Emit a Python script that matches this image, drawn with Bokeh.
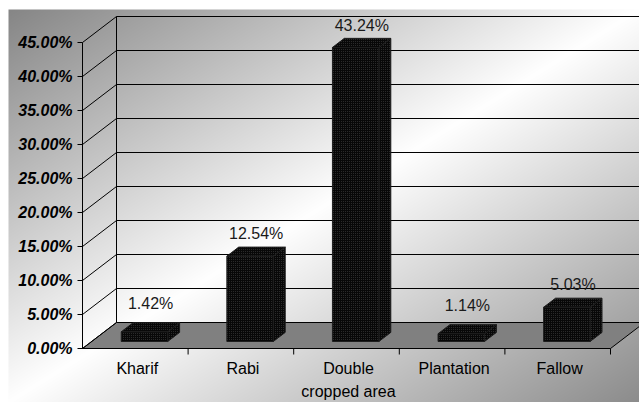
import numpy as np
from bokeh.plotting import figure
from bokeh.models import Range1d
from bokeh.core.properties import value
from bokeh.embed import file_html
from bokeh.resources import INLINE

# ---- data -----------------------------------------------------------------
categories = ["Kharif", "Rabi", "Double\ncropped area", "Plantation", "Fallow"]
shares = [1.42, 12.54, 43.24, 1.14, 5.03]          # percent of area
tick_values = [0, 5, 10, 15, 20, 25, 30, 35, 40, 45]
tick_labels = ["0.00%", "5.00%", "10.00%", "15.00%", "20.00%",
               "25.00%", "30.00%", "35.00%", "40.00%", "45.00%"]

# ---- geometry of the projected box ---------------------------------------
W, H = 639, 402
X0_PX, CAT_PX = 82.0, 105.6      # front-left corner, width of one category slot
Y0_PX, PCT_PX = 348.0, 6.8       # front floor edge (0 %), pixels per percent
DEPTH_PX = (34.0, 26.0)          # screen offset of the back wall

DX = DEPTH_PX[0] / CAT_PX        # depth offset in data units
DY = DEPTH_PX[1] / PCT_PX
N = len(categories)
YMAX = tick_values[-1]


def px2x(px):
    return (px - X0_PX) / CAT_PX


def px2y(py):
    return (Y0_PX - py) / PCT_PX


def proj(x, y, d):
    """Project a point (x, y) at depth d (0 = front, 1 = back)."""
    return x + d * DX, y + d * DY


p = figure(width=W, height=H, output_backend="svg", toolbar_location=None,
           x_range=Range1d(px2x(0), px2x(W)), y_range=Range1d(px2y(H), px2y(0)),
           x_axis_location=None, y_axis_location=None, min_border=0)
p.grid.visible = False
p.outline_line_color = None
p.background_fill_color = "white"
p.border_fill_color = "white"

# ---- chart-area background: diagonal grey-white-grey gradient -------------
gw, gh = 631, 393
rr, cc = np.mgrid[0:gh, 0:gw]
t = (cc / (gw - 1) + rr / (gh - 1)) / 2.0
g = np.where(t < 0.5, 134 + (255 - 134) * t * 2, 255 - (255 - 140) * (t - 0.5) * 2)
g = np.clip(g, 0, 255).astype(np.uint32)
img = (np.uint32(255) << 24) | (g << 16) | (g << 8) | g
img = np.ascontiguousarray(img[::-1])
p.image_rgba(image=[img], x=px2x(8), y=px2y(H), dw=gw / CAT_PX, dh=gh / PCT_PX)

# ---- floor ----------------------------------------------------------------
fx, fy = zip(proj(0, 0, 0), proj(N, 0, 0), proj(N, 0, 1), proj(0, 0, 1))
p.patch(list(fx), list(fy), fill_color="#808080", line_color="black", line_width=1)

# ---- back wall and side wall grid -----------------------------------------
for v in tick_values:
    bx0, by0 = proj(0, v, 1)
    bx1, by1 = proj(N, v, 1)
    p.line([bx0, bx1], [by0, by1], line_color="black", line_width=1)
    sx, sy = proj(0, v, 0)
    p.line([sx, bx0], [sy, by0], line_color="black", line_width=1)

wx, wy0 = proj(0, 0, 1)
_, wy1 = proj(0, YMAX, 1)
p.line([wx, wx], [wy0, wy1], line_color="black", line_width=1)

# front value axis with tick marks
p.line([0, 0], [0, YMAX], line_color="black", line_width=1)
tick_len = 5.0 / CAT_PX
for v in tick_values:
    p.line([-tick_len, 0], [v, v], line_color="black", line_width=1)

p.text(x=[px2x(72)] * len(tick_values), y=tick_values, text=tick_labels,
       text_align="right", text_baseline="middle",
       text_font=value("Liberation Sans"), text_font_style="bold italic",
       text_font_size="16px", text_color="black")

# category tick marks along the front floor edge
tick_h = 6.0 / PCT_PX
for i in range(1, N + 1):
    p.line([i, i], [0, -tick_h], line_color="black", line_width=1)

# ---- 3-D columns ----------------------------------------------------------
D0, D1 = 0.27, 0.62     # depth span of a column
HALF = 0.22             # half width of a column (category units)

front_xs, front_ys, side_xs, side_ys, top_xs, top_ys = [], [], [], [], [], []
for i, v in enumerate(shares):
    xl, xr = i + 0.5 - HALF, i + 0.5 + HALF
    corners = [proj(xl, 0, D0), proj(xr, 0, D0), proj(xr, v, D0), proj(xl, v, D0)]
    front_xs.append([c[0] for c in corners]); front_ys.append([c[1] for c in corners])
    corners = [proj(xr, 0, D0), proj(xr, 0, D1), proj(xr, v, D1), proj(xr, v, D0)]
    side_xs.append([c[0] for c in corners]); side_ys.append([c[1] for c in corners])
    corners = [proj(xl, v, D0), proj(xr, v, D0), proj(xr, v, D1), proj(xl, v, D1)]
    top_xs.append([c[0] for c in corners]); top_ys.append([c[1] for c in corners])

bar_style = dict(fill_color="#080808", line_color="#1e1e1e", line_width=1,
                 hatch_pattern="dot", hatch_color="#353535", hatch_scale=2,
                 hatch_weight=1)
p.patches(side_xs, side_ys, **bar_style)
p.patches(top_xs, top_ys, **bar_style)
p.patches(front_xs, front_ys, **bar_style)

# value labels above each column
MID = 0.45
lab_x = [i + 0.5 + MID * DX for i in range(N)]
lab_y = [v + MID * DY + (3.5 if v < 2 else 2.6) for v in shares]
p.text(x=lab_x, y=lab_y, text=[f"{v:.2f}%" for v in shares],
       text_align="center", text_baseline="middle",
       text_font=value("Liberation Sans"), text_font_size="16px",
       text_color="#1a1a1a")

# category labels below the floor
p.text(x=[i + 0.5 + 2.0 / CAT_PX for i in range(N)], y=[px2y(359)] * N,
       text=categories, text_align="center", text_baseline="top",
       text_line_height=1.4,
       text_font=value("Liberation Sans"), text_font_size="16px",
       text_color="black")

open("out.html", "w").write(file_html(p, INLINE))
